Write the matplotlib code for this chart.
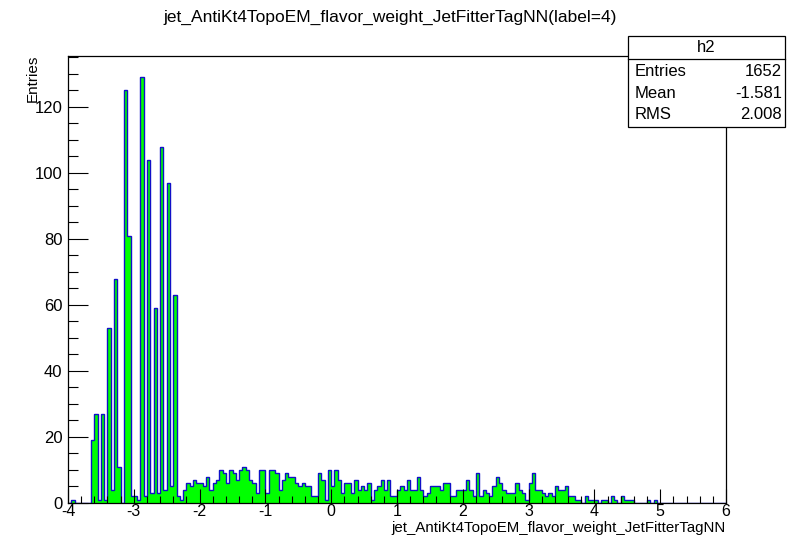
import numpy as np
import matplotlib
matplotlib.use("Agg")
import matplotlib.pyplot as plt
from matplotlib.patches import Rectangle
from matplotlib.lines import Line2D
from matplotlib.ticker import MultipleLocator

plt.rcParams['font.family'] = ['Liberation Sans', 'DejaVu Sans']

# Histogram binning
x_min, x_max, n_bins = -4.0, 6.0, 200

# Bin contents (entries per bin, left to right)
counts = [
    0, 1, 0, 0, 0, 0, 0,
    19, 27, 1, 27, 1, 53, 4, 68, 11, 0, 125, 81, 2, 2, 1, 129, 2, 104, 3,
    59, 3, 108, 4, 97, 5, 63,
    2, 1, 4, 6, 5, 7, 6, 6, 5, 8, 4, 6, 7, 10, 9,
    6, 10, 9, 7, 10, 11, 10, 7, 6, 3, 10, 10, 3, 10, 10, 9, 4, 7, 9, 8, 8,
    6, 5, 6, 5, 5, 2, 2, 9, 7, 1, 10, 5, 10, 7, 3, 6,
    6, 3, 7, 4, 5, 4, 6, 1, 4, 5, 7, 4, 7, 2, 2, 4, 5, 4, 7, 4, 4, 8, 4, 2,
    3, 5, 5, 5, 4, 6, 6, 2, 2, 4, 4, 4, 7,
    4, 2, 9, 2, 4, 3, 2, 5, 8, 6, 4, 3, 3, 3, 6, 4, 3, 1, 6, 9, 4, 4, 3, 2,
    3, 2, 5, 4, 4, 5, 2, 2, 1, 1, 0, 2, 1, 1,
    1, 0, 1, 1, 0, 2, 1, 0, 2, 1, 1, 1, 0, 0, 0, 0, 1, 0, 1,
]
counts = counts + [0] * (n_bins - len(counts))

hist_name = "h2"
title = "jet_AntiKt4TopoEM_flavor_weight_JetFitterTagNN(label=4)"
x_title = "jet_AntiKt4TopoEM_flavor_weight_JetFitterTagNN"
y_title = "Entries"
stats_labels = ["Entries", "Mean", "RMS"]
stats_values = ["1652", "-1.581", "2.008"]

W, H = 792, 544
fig = plt.figure(figsize=(W / 100, H / 100), dpi=100)
fig.patch.set_facecolor("white")

def fx(px):
    return px / W

def fy(py):
    return 1 - py / H

ax_l, ax_r, ax_t, ax_b = 68, 726, 56, 503
ax = fig.add_axes([fx(ax_l), fy(ax_b), fx(ax_r - ax_l), (ax_b - ax_t) / H])

edges = np.linspace(x_min, x_max, n_bins + 1)
vals = np.asarray(counts, dtype=float)
ax.stairs(vals, edges, fill=True, facecolor="#00ff00", edgecolor="none", zorder=1)
ax.stairs(vals, edges, color="#1010c8", linewidth=1.0, zorder=1.5)

ax.set_xlim(x_min, x_max)
ax.set_ylim(0, 1.05 * vals.max())

ax.xaxis.set_major_locator(MultipleLocator(1))
ax.xaxis.set_minor_locator(MultipleLocator(0.2))
ax.yaxis.set_major_locator(MultipleLocator(20))
ax.yaxis.set_minor_locator(MultipleLocator(5))
ax.set_axisbelow(False)

ax.tick_params(axis="x", which="major", direction="in", length=10, width=0.8,
               labelsize=11.5, pad=1.0, top=False)
ax.tick_params(axis="x", which="minor", direction="in", length=5, width=0.8, top=False)
ax.tick_params(axis="y", which="major", direction="in", length=14.5, width=0.8,
               labelsize=12, pad=4, right=False)
ax.tick_params(axis="y", which="minor", direction="in", length=7, width=0.8, right=False)
ax.set_xticklabels([f"{int(v)}" for v in ax.get_xticks()])

for sp in ax.spines.values():
    sp.set_linewidth(0.9)
    sp.set_color("black")

fig.text(fx(390), fy(17), title, ha="center", va="center", fontsize=12.5)
fig.text(fx(ax_r), fy(528), x_title, ha="right", va="center", fontsize=10.8)
fig.text(fx(33), fy(ax_t - 1), y_title, ha="center", va="top", rotation=90, fontsize=11)

# Statistics box
bx_l, bx_r, bx_t, bx_b, bx_h = 628, 785, 36, 127, 59
fig.patches.append(Rectangle((fx(bx_l), fy(bx_b)), fx(bx_r - bx_l), (bx_b - bx_t) / H,
                             transform=fig.transFigure, facecolor="white",
                             edgecolor="black", linewidth=0.9, zorder=5))
fig.lines.append(Line2D([fx(bx_l), fx(bx_r)], [fy(bx_h), fy(bx_h)],
                        transform=fig.transFigure, color="black", linewidth=0.9, zorder=6))
fig.text(fx((bx_l + bx_r) / 2), fy(48), hist_name, ha="center", va="center",
         fontsize=12, zorder=7)
for i, (lab, val) in enumerate(zip(stats_labels, stats_values)):
    yy = fy(72 + 21.3 * i)
    fig.text(fx(635), yy, lab, ha="left", va="center", fontsize=12, zorder=7)
    fig.text(fx(782), yy, val, ha="right", va="center", fontsize=12, zorder=7)

fig.savefig("out.png", dpi=100)
